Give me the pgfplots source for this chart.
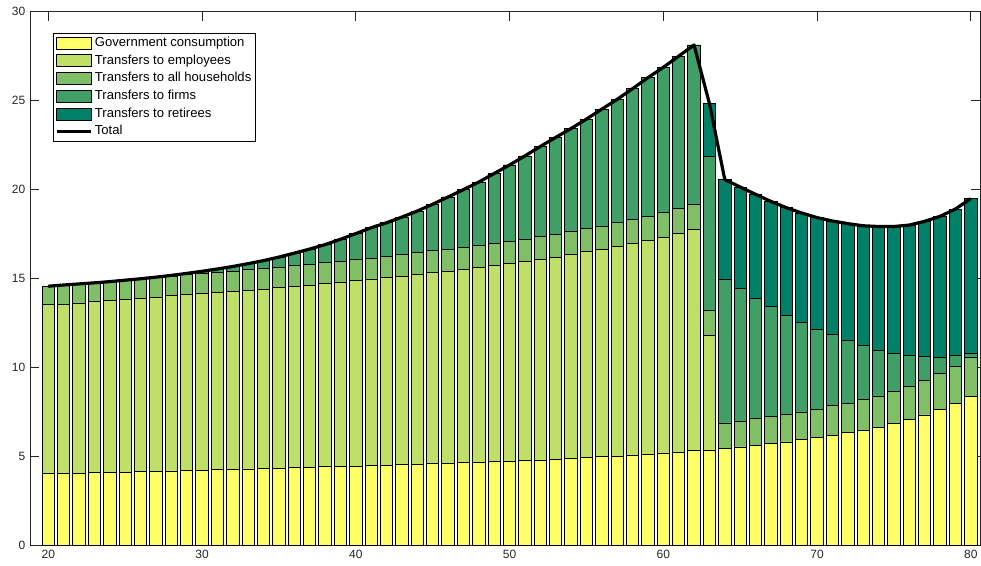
\documentclass[border=0pt]{standalone}
\usepackage{fontspec}
\setmainfont{Liberation Sans}
\usepackage{pgfplots}
\pgfplotsset{compat=1.18}
\usepackage{pgfplotstable}
\usetikzlibrary{calc}
\definecolor{c1}{RGB}{255,255,102}
\definecolor{c2}{RGB}{191,223,102}
\definecolor{c3}{RGB}{128,191,102}
\definecolor{c4}{RGB}{64,159,102}
\definecolor{c5}{RGB}{0,128,102}
\definecolor{axc}{RGB}{38,38,38}
\pgfplotsset{
  barleg/.style={legend image code/.code={\draw[##1] (0pt,-4.5pt) rectangle (26pt,4.5pt);}},
  lineleg/.style={legend image code/.code={\draw[##1] (0pt,0pt) -- (26pt,0pt);}},
  mybar/.style={ybar, bar width=0.8, bar shift=0pt, draw=black, line width=0.6pt, forget plot},
}
% age, G = top of government consumption, E = top of transfers to employees,
% H = top of transfers to all households, F = top of transfers to firms, T = total
\pgfplotstableread{
age G E H F T
20 4.01 13.51 14.56 14.56 14.56
21 4.03 13.56 14.63 14.63 14.63
22 4.05 13.62 14.69 14.69 14.69
23 4.07 13.69 14.75 14.75 14.75
24 4.09 13.75 14.82 14.82 14.82
25 4.11 13.81 14.90 14.90 14.90
26 4.12 13.88 14.98 14.98 14.98
27 4.14 13.95 15.06 15.07 15.07
28 4.17 14.02 15.13 15.17 15.17
29 4.18 14.08 15.20 15.28 15.28
30 4.20 14.15 15.27 15.40 15.40
31 4.23 14.21 15.34 15.53 15.53
32 4.26 14.27 15.41 15.67 15.67
33 4.28 14.33 15.49 15.83 15.83
34 4.31 14.40 15.56 16.00 16.00
35 4.33 14.47 15.64 16.20 16.20
36 4.36 14.54 15.72 16.42 16.42
37 4.39 14.62 15.80 16.65 16.65
38 4.41 14.70 15.88 16.90 16.90
39 4.43 14.80 15.97 17.20 17.20
40 4.44 14.90 16.05 17.52 17.52
41 4.46 14.97 16.14 17.85 17.85
42 4.50 15.05 16.25 18.13 18.13
43 4.52 15.12 16.33 18.45 18.45
44 4.54 15.20 16.44 18.79 18.79
45 4.57 15.31 16.55 19.17 19.17
46 4.60 15.40 16.65 19.58 19.58
47 4.63 15.50 16.74 19.99 19.99
48 4.67 15.61 16.85 20.42 20.42
49 4.69 15.71 16.95 20.90 20.90
50 4.73 15.82 17.08 21.38 21.38
51 4.76 15.95 17.21 21.89 21.89
52 4.78 16.06 17.34 22.42 22.42
53 4.82 16.19 17.47 22.93 22.93
54 4.87 16.34 17.64 23.43 23.43
55 4.91 16.50 17.79 23.96 23.96
56 4.96 16.65 17.94 24.52 24.52
57 5.01 16.80 18.13 25.07 25.07
58 5.06 16.98 18.32 25.67 25.67
59 5.10 17.13 18.49 26.29 26.29
60 5.16 17.32 18.71 26.87 26.87
61 5.23 17.55 18.92 27.50 27.50
62 5.33 17.76 19.17 28.13 28.13
63 5.35 11.77 13.19 21.86 24.84
64 5.42 5.42 6.87 14.92 20.56
65 5.52 5.52 6.98 14.41 20.14
66 5.59 5.59 7.10 13.88 19.73
67 5.72 5.72 7.21 13.41 19.33
68 5.80 5.80 7.34 12.94 18.98
69 5.93 5.93 7.49 12.53 18.68
70 6.04 6.04 7.64 12.15 18.42
71 6.18 6.18 7.83 11.83 18.23
72 6.31 6.31 7.98 11.49 18.08
73 6.47 6.47 8.19 11.23 17.96
74 6.64 6.64 8.39 10.97 17.92
75 6.85 6.85 8.66 10.80 17.92
76 7.08 7.08 8.94 10.69 18.00
77 7.32 7.32 9.26 10.61 18.21
78 7.62 7.62 9.65 10.58 18.49
79 7.98 7.98 10.07 10.65 18.90
80 8.38 8.38 10.58 10.76 19.49
}\data
\begin{document}
\begin{tikzpicture}
\begin{axis}[
  scale only axis, width=712.5pt, height=400pt,
  xmin=18.81, xmax=80.6, ymin=0, ymax=30,
  xtick={20,30,...,80}, ytick={0,5,...,30},
  tick align=inside, major tick length=7pt,
  axis line style={axc, line width=0.5pt},
  tick style={axc, line width=0.5pt},
  ticklabel style={font=\fontsize{9}{10}\selectfont, text=axc},
  /pgf/number format/assume math mode=true,
  legend style={at={(0.0242,0.96)}, anchor=north west, draw=black, line width=0.5pt,
    inner xsep=1.3pt, inner ysep=1pt, row sep=0.9pt,
    font=\fontsize{9.8}{11}\selectfont,
    nodes={inner sep=1.5pt, text height=7.2pt, text depth=2.2pt}},
  legend cell align=left,
]
\addplot[mybar, fill=c5] table[x=age, y=T]{\data};
\addplot[mybar, fill=c4] table[x=age, y=F]{\data};
\addplot[mybar, fill=c3] table[x=age, y=H]{\data};
\addplot[mybar, fill=c2] table[x=age, y=E]{\data};
\addplot[mybar, fill=c1] table[x=age, y=G]{\data};
\addplot[sharp plot, black, line width=2.4pt, line join=round, mark=none, forget plot] table[x=age, y=T]{\data};
\addlegendimage{barleg, fill=c1, draw=black, line width=0.6pt}
\addlegendentry{Government consumption}
\addlegendimage{barleg, fill=c2, draw=black, line width=0.6pt}
\addlegendentry{Transfers to employees}
\addlegendimage{barleg, fill=c3, draw=black, line width=0.6pt}
\addlegendentry{Transfers to all households}
\addlegendimage{barleg, fill=c4, draw=black, line width=0.6pt}
\addlegendentry{Transfers to firms}
\addlegendimage{barleg, fill=c5, draw=black, line width=0.6pt}
\addlegendentry{Transfers to retirees}
\addlegendimage{lineleg, black, line width=2.4pt}
\addlegendentry{Total}
\end{axis}
\pgfresetboundingbox
\path ($(current axis.south west)+(-22.5pt,-15pt)$) rectangle ($(current axis.north east)+(0.75pt,8.8pt)$);
\end{tikzpicture}
\end{document}
